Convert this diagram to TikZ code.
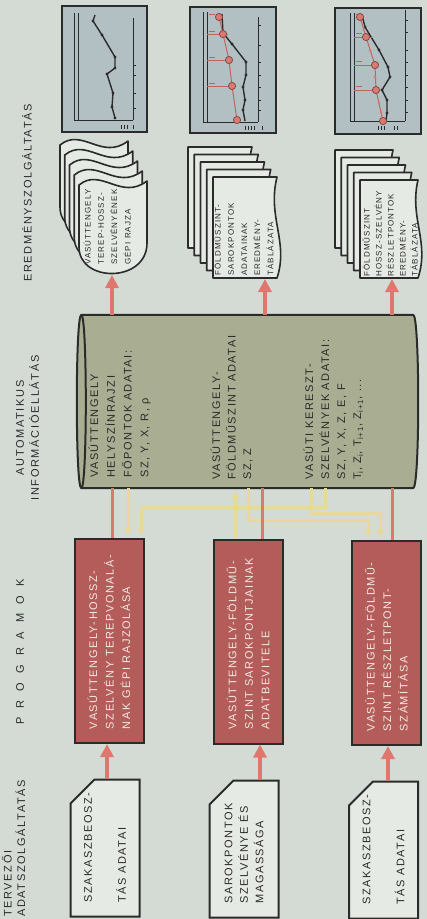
\documentclass[tikz,border=0pt]{standalone}
\usepackage{fontspec}
\setmainfont{Liberation Sans}
\newfontfamily\hdfont[LetterSpace=15]{Liberation Sans}
\newfontfamily\bxfont[LetterSpace=14]{Liberation Sans}
\usepackage{graphicx}
\usetikzlibrary{shapes.misc,arrows.meta}
\definecolor{bg}{HTML}{D4DBD5}
\definecolor{progfill}{HTML}{B35C5A}
\definecolor{progtext}{HTML}{F4E9E2}
\definecolor{cylfill}{HTML}{A9AD91}
\definecolor{docfill}{HTML}{E6EAE4}
\definecolor{chartfill}{HTML}{B3C0C3}
\definecolor{redc}{HTML}{E0776F}
\definecolor{yelc}{HTML}{E8D99A}
\definecolor{ink}{HTML}{2B2B2B}
\definecolor{ptred}{HTML}{D97B73}
\newcommand{\rtxt}[3]{\rotatebox{90}{\parbox{#1}{\raggedright\baselineskip=#2 #3}}}
\begin{document}
\begin{tikzpicture}[x=1pt,y=-1pt,
  progbox/.style={draw=ink, line width=2pt, fill=progfill, text=progtext, minimum width=69pt, minimum height=204pt, inner sep=0pt, font=\bxfont\fontsize{11}{16.5}\selectfont},
  inbox/.style={chamfered rectangle, chamfered rectangle corners=north west, chamfered rectangle xsep=12pt, chamfered rectangle ysep=12pt, draw=ink, line width=2pt, fill=docfill, text=ink, minimum width=69pt, minimum height=137pt, inner sep=0pt, font=\bxfont\fontsize{11}{16.5}\selectfont},
  cylframe/.style={minimum width=341pt, minimum height=173pt, inner sep=0pt},
  cylbody/.style={draw=ink, line width=2pt, fill=cylfill, line join=round},
  cyltext/.style={anchor=south west, inner sep=0pt, text=ink, font=\bxfont\fontsize{11}{16.5}\selectfont},
  outtext/.style={anchor=south west, inner sep=0pt, text=ink, font=\bxfont\fontsize{8}{13}\selectfont},
  header/.style={inner sep=0pt, text=ink, font=\hdfont\fontsize{11}{13.5}\selectfont},
  bigarrow/.style={draw=redc, line width=4pt, -{Triangle[width=13pt,length=13pt]}},
  redline/.style={draw=redc, line width=3pt},
  yelarrow/.style={draw=yelc, line width=3pt, -{Triangle[width=7pt,length=7pt]}, shorten >=3pt},
  page/.style={draw=ink, line width=1.6pt, fill=docfill, line join=round},
  chart/.style={draw=ink, line width=2pt, fill=chartfill},
  axis/.style={draw=ink, line width=0.9pt},
  curve/.style={draw=ink, line width=1.4pt},
  rcurve/.style={draw=redc!85!black, line width=1pt},
  rdot/.style={draw=redc!60!black, line width=0.8pt, fill=ptred},
]
\fill[bg] (0,0) rectangle (427,919);
\useasboundingbox (0,0) rectangle (427,919);

% ---------- headers ----------
\node[header, anchor=south west] (hdin) at (2,917) {\rtxt{160pt}{13.5pt}{TERVEZŐI\\ADATSZOLGÁLTATÁS}};
\node[header] (hdprog) at (20,652) {\rotatebox{90}{\makebox[145pt][s]{P R O G R A M O K}}};
\node[header] (hdcyl) at (27.5,428) {\rotatebox{90}{\parbox{160pt}{\centering\baselineskip=15pt AUTOMATIKUS\\INFORMÁCIÓELLÁTÁS}}};
\node[header] (hdout) at (27,193) {\rotatebox{90}{EREDMÉNYSZOLGÁLTATÁS}};

% ---------- charts ----------
\draw[chart] (62,6) rectangle (147,132);
\draw[axis] (74,13) -- (74,120) -- (133,120);
\draw[axis] (78,13) -- (78,120);
\draw[axis] (133,18) -- (133,120);
\foreach \t in {65,75,93,108} \draw[axis] (133,\t) -- (136,\t);
\foreach \t in {121,124,127,133} \draw[axis,line width=0.7pt] (\t,125) -- (\t,129);
\draw[curve] (95,15) -- (93,21) -- (102,35) -- (115,57) -- (115,68) -- (107,74) -- (113,93) -- (112,107) -- (115,118);
\foreach \p in {(93,21),(102,35),(115,57),(115,68),(107,74),(113,93),(112,107),(115,118)} \fill[ink] \p circle (1.6);

\draw[chart] (190,7) rectangle (276,133);
\draw[axis] (203,12) -- (203,122) -- (258,122);
\draw[axis] (207,12) -- (207,122);
\draw[axis] (258,17) -- (258,122);
\foreach \t in {25,45,62,75,87,100,110} \draw[axis] (258,\t) -- (261,\t);
\foreach \t in {245,248,251,254,262} \draw[axis,line width=0.7pt] (\t,126) -- (\t,130);
\draw[curve] (222,14) -- (223,33) -- (232,44) -- (246,62) -- (246,75) -- (243,87) -- (245,100) -- (243,110) -- (245,121);
\foreach \p in {(223,33),(232,44),(246,62),(246,75),(243,87),(245,100),(243,110)} \fill[ink] \p circle (1.6);
\foreach \t in {34,60,86} \draw[rcurve] (207,\t) -- (228,\t);
\foreach \t in {14,31,57,83} \draw[rcurve] (209,\t) -- (215,\t);
\draw[rcurve] (219,17) -- (223,34) -- (229,60) -- (232,86) -- (237,120);
\foreach \p in {(219,17),(223,34),(229,60),(232,86),(237,120)} \draw[rdot] \p circle (3.6);

\draw[chart] (335,8) rectangle (421,134);
\draw[axis] (350,13) -- (350,121) -- (405,121);
\draw[axis] (354,13) -- (354,121);
\draw[axis] (405,10) -- (405,121);
\foreach \t in {20,32,50,62,75,87,100,112} \draw[axis] (405,\t) -- (408,\t);
\foreach \t in {378,381,384,394,397} \draw[axis,line width=0.7pt] (\t,126) -- (\t,130);
\draw[curve] (362,15) -- (365,27) -- (379,50) -- (388,67) -- (390,77) -- (382,90) -- (387,100) -- (387,113) -- (386,121);
\foreach \p in {(365,27),(379,50),(388,67),(390,77),(382,90),(387,100),(387,113)} \fill[ink] \p circle (1.6);
\foreach \t in {37,65,90} \draw[rcurve] (354,\t) -- (372,\t);
\foreach \t in {14,33,61,86} \draw[rcurve] (356,\t) -- (362,\t);
\draw[rcurve] (360,17) -- (366,37) -- (375,65) -- (376,90) -- (383,121);
\foreach \p in {(363,27),(370,50),(375,77),(379,103),(381,112)} \fill[ptred] \p circle (1.5);
\foreach \p in {(360,17),(366,37),(375,65),(376,90),(383,121)} \draw[rdot] \p circle (3.6);

% ---------- output documents ----------
\foreach \k in {4,3,2,1,0}
  \draw[page, shift={(79-4.75*\k,185-10*\k)}] (0,0) .. controls (22,-18) and (42,16) .. (68,-4) -- (68,58) .. controls (68,98) and (0,98) .. (0,62) -- cycle;
\foreach \k in {4,3,2,1,0}
  \draw[page, shift={(213-6.25*\k,177-7.5*\k)}] (0,0) -- (64,0) .. controls (54,40) and (76,65) .. (64,101) -- (0,101) -- cycle;
\foreach \k in {4,3,2,1,0}
  \draw[page, shift={(360-6.25*\k,180-7.5*\k)}] (0,0) -- (58,0) .. controls (49,38) and (70,62) .. (58,98) -- (0,98) -- cycle;
\node[outtext] (out1) at (83.5,265) {\rtxt{80pt}{13.3pt}{VASÚTTENGELY\\TEREP-HOSSZ-\\SZELVÉNYÉNEK\\GÉPI RAJZA}};
\node[outtext] (out2) at (213.5,276) {\rtxt{96pt}{13.2pt}{FÖLDMŰSZINT-\\SAROKPONTOK\\ADATAINAK\\EREDMÉNY-\\TÁBLÁZATA}};
\node[outtext] (out3) at (362.5,277) {\rtxt{96pt}{12pt}{FÖLDMŰSZINT\\HOSSZ-SZELVÉNY\\RÉSZLETPONTOK\\EREDMÉNY-\\TÁBLÁZATA}};
\coordinate (o1) at (112,275);
\coordinate (o2) at (265,279);
\coordinate (o3) at (392,279);

% ---------- database cylinder ----------
\node[cylframe] (cyl) at (247.5,401.5) {};
\path[cylbody] ([xshift=4.5pt]cyl.north west) -- ([xshift=-5pt]cyl.north east)
   .. controls ([xshift=1.7pt]cyl.north east) and ([xshift=1.7pt]cyl.south east) .. ([xshift=-5pt]cyl.south east)
   -- ([xshift=4.5pt]cyl.south west)
   .. controls ([xshift=-1.5pt]cyl.south west) and ([xshift=-1.5pt]cyl.north west) .. cycle;
\draw[cylbody, fill=none] ([xshift=4.5pt]cyl.north west) .. controls ([xshift=10.5pt]cyl.north west) and ([xshift=10.5pt]cyl.south west) .. ([xshift=4.5pt]cyl.south west);
\node[cyltext] (cyl1) at (88.5,478) {\rtxt{150pt}{16.7pt}{VASÚTTENGELY\\HELYSZÍNRAJZI\\FŐPONTOK ADATAI:\\SZ, Y, X, R, ρ}};
\node[cyltext] (cyl2) at (210.5,480) {\rtxt{170pt}{15.5pt}{VASÚTTENGELY-\\FÖLDMŰSZINT ADATAI\\SZ, Z}};
\node[cyltext] (cyl3) at (303.5,480) {\rtxt{170pt}{16pt}{VASÚTI KERESZT-\\SZELVÉNYEK ADATAI:\\SZ, Y, X, Z, E, F\\T\textsubscript{i}, Z\textsubscript{i}, T\textsubscript{i+1}, Z\textsubscript{i+1}, ...}};

% ---------- programs ----------
\node[progbox] (prog1) at (109,641) {\rtxt{176pt}{16.5pt}{VASÚTTENGELY-HOSSZ-\\SZELVÉNY TEREPVONALÁ-\\NAK GÉPI RAJZOLÁSA}};
\node[progbox] (prog2) at (248,641.5) {\rtxt{176pt}{16.5pt}{VASÚTTENGELY-FÖLDMŰ-\\SZINT SAROKPONTJAINAK\\ADATBEVITELE}};
\node[progbox] (prog3) at (386.5,643) {\rtxt{176pt}{16.5pt}{VASÚTTENGELY-FÖLDMŰ-\\SZINT RÉSZLETPONT-\\SZÁMÍTÁSA}};

% ---------- input documents ----------
\node[inbox] (in1) at (105,848) {\rtxt{109pt}{17pt}{SZAKASZBEOSZ-\\TÁS ADATAI}};
\node[inbox] (in2) at (244,849) {\rtxt{109pt}{15.5pt}{SAROKPONTOK\\SZELVÉNYE ÉS\\MAGASSÁGA}};
\node[inbox] (in3) at (383.5,850) {\rtxt{109pt}{17pt}{SZAKASZBEOSZ-\\TÁS ADATAI}};

% ---------- connectors ----------
\draw[yelarrow] (128,0 |- cyl.south) -- (128,0 |- prog1.north);
\draw[yelarrow] (325,0 |- cyl.south) -- (325,507) -- (141,507) -- (141,0 |- prog1.north);
\draw[yelarrow] (235,0 |- prog2.north) -- (235,0 |- cyl.south);
\draw[yelarrow] (248,0 |- cyl.south) -- (248,520) -- (368,520) -- (368,0 |- prog3.north);
\draw[yelarrow] (311,0 |- cyl.south) -- (311,513) -- (380,513) -- (380,0 |- prog3.north);

\draw[redline] (112,0 |- prog1.north) -- (112,0 |- cyl.south);
\draw[redline] (262,0 |- prog2.north) -- (262,0 |- cyl.south);
\draw[redline] (392,0 |- prog3.north) -- (392,0 |- cyl.south);

\draw[bigarrow] (107,0 |- in1.north) -- (107,0 |- prog1.south);
\draw[bigarrow] (260,0 |- in2.north) -- (260,0 |- prog2.south);
\draw[bigarrow] (388,0 |- in3.north) -- (388,0 |- prog3.south);

\draw[bigarrow] (112,0 |- cyl.north) -- (o1);
\draw[bigarrow] (265,0 |- cyl.north) -- (o2);
\draw[bigarrow] (392,0 |- cyl.north) -- (o3);
\end{tikzpicture}
\end{document}
